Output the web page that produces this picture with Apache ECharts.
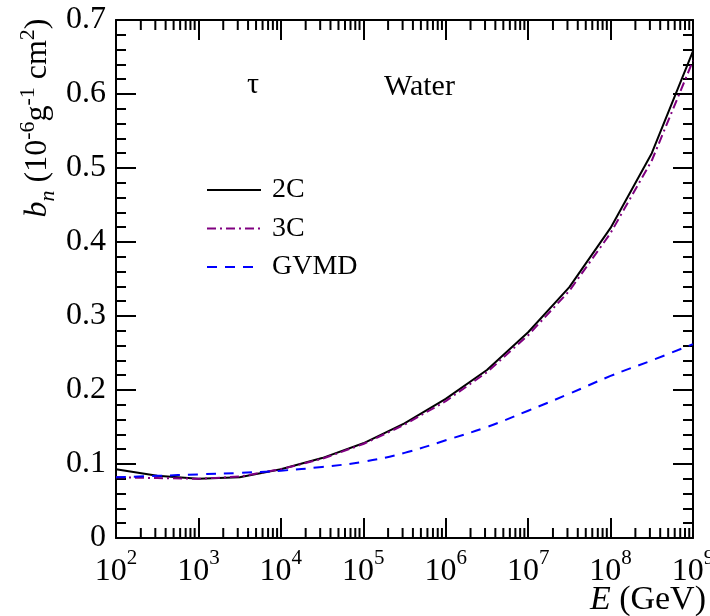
<!DOCTYPE html>
<html>
<head>
<meta charset="utf-8">
<script src="https://cdn.jsdelivr.net/npm/echarts@6/dist/echarts.min.js"></script>
<style>html,body{margin:0;padding:0;background:#fff}#c{width:710px;height:616px}</style>
</head>
<body>
<div id="c"></div>
<script>
// Energies (GeV), half-decade steps 10^2 ... 10^9
const energies = [1e2, 316.2, 1e3, 3162, 1e4, 31623, 1e5, 316228, 1e6, 3162278, 1e7, 31622777, 1e8, 316227766, 1e9];
const b2C   = [0.093, 0.084, 0.080, 0.082, 0.093, 0.108, 0.128, 0.155, 0.188, 0.227, 0.278, 0.339, 0.419, 0.520, 0.658];
const b3C   = [0.082, 0.081, 0.080, 0.083, 0.093, 0.107, 0.127, 0.153, 0.185, 0.224, 0.274, 0.334, 0.412, 0.510, 0.645];
const bGVMD = [0.082, 0.084, 0.086, 0.088, 0.091, 0.096, 0.103, 0.115, 0.132, 0.150, 0.172, 0.195, 0.219, 0.240, 0.262];
const seriesNames = ['2C', '3C', 'GVMD'];
const yTicks = [0, 0.1, 0.2, 0.3, 0.4, 0.5, 0.6, 0.7];

const FONT = '"Liberation Serif", "DejaVu Serif", serif';
const pair = (ys) => energies.map((e, i) => [e, ys[i]]);

// minor tick positions on log axis (2..9 x 10^d)
const minorX = [];
for (let d = 2; d < 9; d++) for (let k = 2; k <= 9; k++) minorX.push([k * Math.pow(10, d)]);

const TC = '#000';
const chart = echarts.init(document.getElementById('c'), null, {renderer: 'canvas'});
const mkLine = () => ({show: true, onZero: false, lineStyle: {color: '#000', width: 2}});
const mkTick = () => ({show: true, inside: true, length: 20, lineStyle: {width: 2, color: TC}});
const mkMinor = () => ({show: true, splitNumber: 5, length: 10, lineStyle: {width: 2, color: TC}});
const xLabel = {
  show: true, color: '#000', margin: 10, fontFamily: FONT, fontSize: 32,
  formatter: (v) => '{b|10}{s|' + Math.round(Math.log10(v)) + '}',
  rich: {
    b: {fontFamily: FONT, fontSize: 32, color: '#000', lineHeight: 40, verticalAlign: 'bottom'},
    s: {fontFamily: FONT, fontSize: 21, color: '#000', lineHeight: 40, verticalAlign: 'top'}
  }
};
chart.setOption({
  animation: false,
  grid: {left: 116, right: 17, top: 20, bottom: 78, containLabel: false, outerBoundsMode: 'none'},
  legend: {
    data: seriesNames,
    orient: 'vertical', left: 201, top: 171,
    itemWidth: 54, itemHeight: 14, itemGap: 10.5,
    itemStyle: {opacity: 0},
    textStyle: {fontFamily: FONT, fontSize: 28, lineHeight: 28, color: '#000', padding: [0, 0, 0, 6]}
  },
  xAxis: [
    {type: 'log', logBase: 10, min: 1e2, max: 1e9, interval: 1, position: 'bottom',
     axisLine: mkLine(), axisTick: mkTick(), axisLabel: xLabel, splitLine: {show: false}},
    {type: 'log', logBase: 10, min: 1e2, max: 1e9, interval: 1, position: 'top',
     axisLine: mkLine(), axisTick: mkTick(), axisLabel: {show: false}, splitLine: {show: false}}
  ],
  yAxis: [
    {type: 'value', min: 0, max: 0.7, interval: 0.1, position: 'left',
     axisLine: mkLine(), axisTick: mkTick(), minorTick: mkMinor(),
     axisLabel: {fontFamily: FONT, fontSize: 32, color: '#000', margin: 10,
       formatter: (v) => { const t = yTicks.find(x => Math.abs(x - v) < 1e-9); return t === 0 ? '0' : String(+v.toFixed(1)); }},
     splitLine: {show: false}},
    {type: 'value', min: 0, max: 0.7, interval: 0.1, position: 'right',
     axisLine: mkLine(), axisTick: mkTick(), minorTick: mkMinor(),
     axisLabel: {show: false}, splitLine: {show: false}}
  ],
  series: [
    {name: '2C', type: 'line', data: pair(b2C), symbol: 'none', smooth: false,
     lineStyle: {color: '#000', width: 2, type: 'solid'}, itemStyle: {color: '#000'}},
    {name: '3C', type: 'line', data: pair(b3C), symbol: 'none', smooth: false,
     lineStyle: {color: '#800080', width: 2, type: [9, 4, 2, 4]}, itemStyle: {color: '#800080'}},
    {name: 'GVMD', type: 'line', data: pair(bGVMD), symbol: 'none', smooth: 0.4,
     lineStyle: {color: '#0000ff', width: 2, type: [10, 8]}, itemStyle: {color: '#0000ff'}},
    {type: 'custom', data: minorX, silent: true, clip: false, z: 5,
     renderItem: (params, api) => {
       const e = api.value(0);
       const pb = api.coord([e, 0]);
       const pt = api.coord([e, 0.7]);
       const st = {stroke: TC, lineWidth: 2};
       return {type: 'group', children: [
         {type: 'line', shape: {x1: pb[0], y1: pb[1], x2: pb[0], y2: pb[1] - 10}, style: st},
         {type: 'line', shape: {x1: pt[0], y1: pt[1], x2: pt[0], y2: pt[1] + 10}, style: st}
       ]};
     }}
  ],
  graphic: [
    {type: 'text', x: 38, y: 118, rotation: Math.PI / 2,
     style: {
       text: '{i|b}{sub|n}{r| (10}{sup|-6}{r|g}{sup|-1}{r| cm}{sup|2}{r|)}',
       align: 'center', verticalAlign: 'middle',
       rich: {
         i: {fontFamily: FONT, fontSize: 32, fontStyle: 'italic', fill: '#000', lineHeight: 42, verticalAlign: 'middle'},
         sub: {fontFamily: FONT, fontSize: 22, fontStyle: 'italic', fill: '#000', lineHeight: 42, verticalAlign: 'bottom'},
         r: {fontFamily: FONT, fontSize: 32, fill: '#000', lineHeight: 42, verticalAlign: 'middle'},
         sup: {fontFamily: FONT, fontSize: 22, fill: '#000', lineHeight: 42, verticalAlign: 'top'}
       }
     }},
    {type: 'text', x: 706, y: 600,
     style: {
       text: '{i|E}{r| (GeV)}', align: 'right', verticalAlign: 'middle',
       rich: {
         i: {fontFamily: FONT, fontSize: 34, fontStyle: 'italic', fill: '#000'},
         r: {fontFamily: FONT, fontSize: 34, fill: '#000'}
       }
     }},
    {type: 'text', x: 253, y: 85, style: {text: 'τ', fontFamily: FONT, fontSize: 30, fill: '#000', align: 'center', verticalAlign: 'middle'}},
    {type: 'text', x: 384, y: 87, style: {text: 'Water', fontFamily: FONT, fontSize: 30, fill: '#000', align: 'left', verticalAlign: 'middle'}}
  ]
});
</script>
</body>
</html>
